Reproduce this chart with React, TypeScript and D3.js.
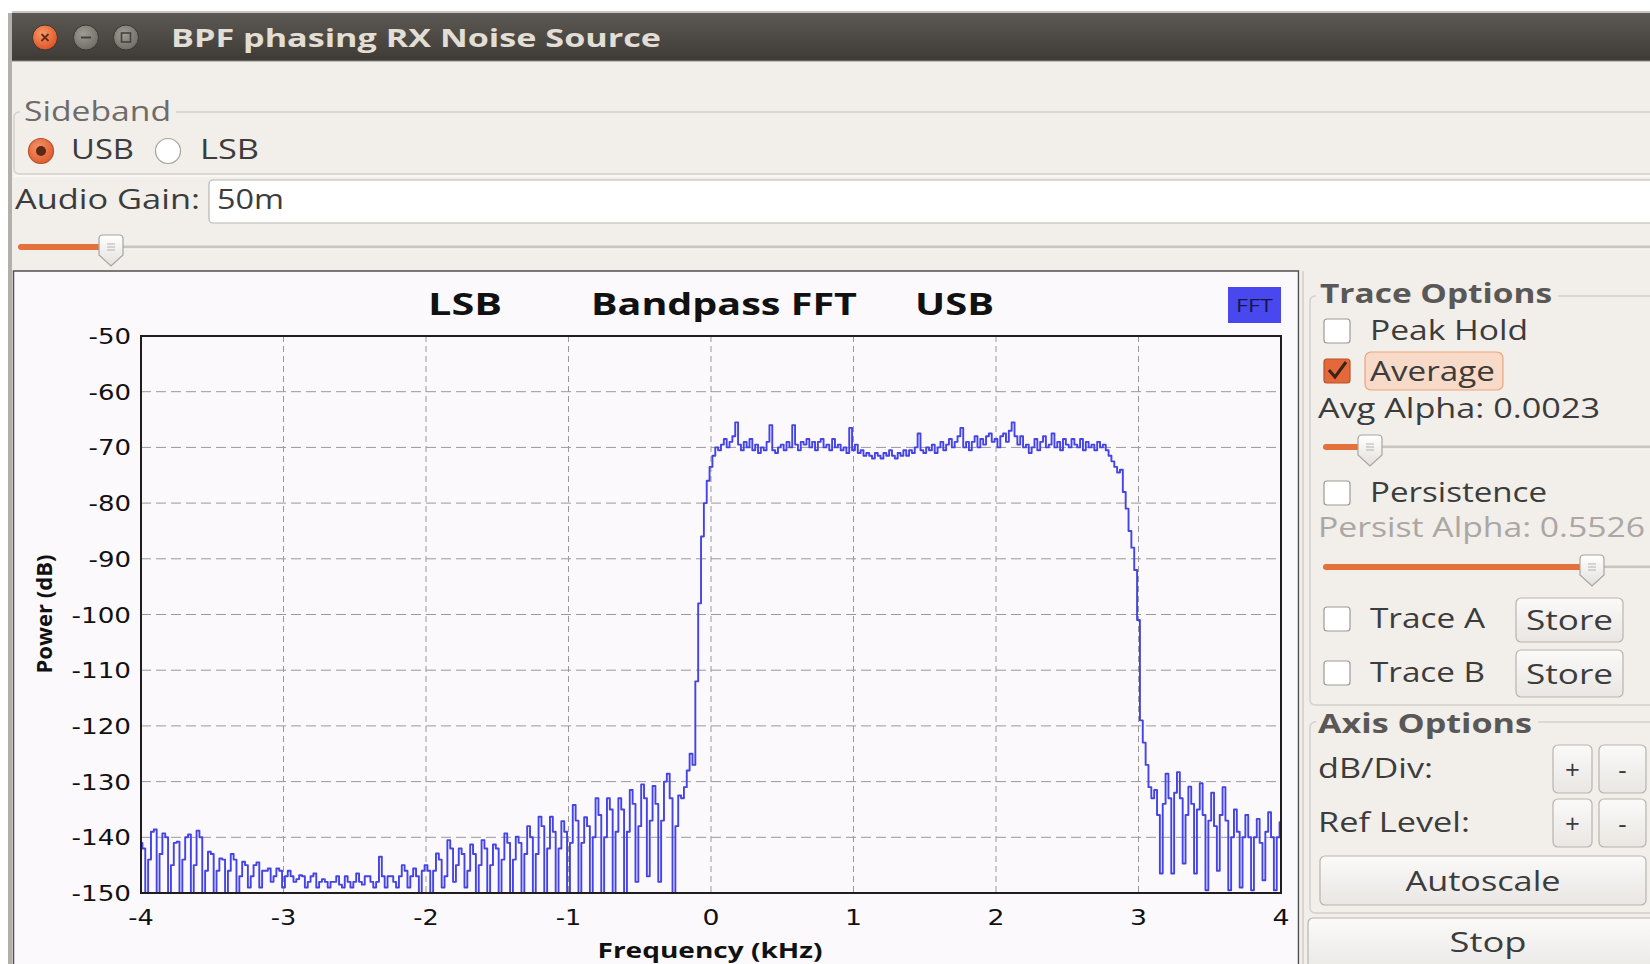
import React from 'react';
import * as d3 from 'd3';

// ---------------- DATA ----------------
const FREQ_DOMAIN: [number, number] = [-4, 4]; // kHz
const DB_DOMAIN: [number, number] = [-150, -50]; // dB
const X_TICKS = [-4, -3, -2, -1, 0, 1, 2, 3, 4];
const Y_TICKS = [-50, -60, -70, -80, -90, -100, -110, -120, -130, -140, -150];

// FFT bins, 0.02 kHz apart, from -4.00 kHz upwards
const LOWER_STOPBAND = [
  -141, -142, -150, -144, -139, -138.6, -150, -143, -139.3, -140, -150, -145,
  -141, -140.8, -150, -144, -140, -139.5, -150, -145, -138.8, -140, -150, -146,
  -142.6, -143, -150, -146, -143.8, -144, -150, -146, -143, -144, -150, -147,
  -144.4, -145, -149, -147, -145, -144.5, -149, -146, -146, -145.6, -148, -147,
  -145.6, -146, -149, -147, -146, -147, -148, -147.5, -146.8, -147, -149, -148,
  -147, -146.5, -149, -148, -147.5, -148, -149, -148, -148, -147, -148.5, -149,
  -147, -148, -149, -148, -146.5, -148, -148.5, -147, -147, -148, -149, -148,
  -143.5, -147, -149, -147, -147, -148, -149, -147, -145, -146, -149, -147,
  -145.6, -147, -150, -146, -145, -146, -150, -146, -142.9, -144, -149, -147,
  -140.5, -142, -148, -145, -142, -143, -149, -146, -141.3, -143, -150, -145,
  -140.5, -142, -150, -145, -141.3, -142, -150, -144, -139.3, -141, -150, -144,
  -139.9, -141, -150, -143, -138, -140, -150, -143, -136.3, -138, -150, -142,
  -136.3, -139, -150, -142, -137.1, -139, -150, -141, -134.2, -137, -150, -141,
  -136.4, -138, -150, -140, -133, -136, -150, -140, -133, -135, -150, -139,
  -133, -135, -150, -139, -131.5, -134, -148, -138, -130.5, -133, -147, -137,
  -130.8, -134, -148, -137,
];
const LOWER_TRANSITION = [
  -130, -128.6, -133, -150, -138, -132.5, -133, -131, -128, -125, -127, -112,
  -98, -86, -80, -76, -73.5, -71.5, -70,
];
const PASSBAND = [
  -70.5, -69.5, -68.5, -70, -69, -68, -65.5, -69.5, -70.5, -69,
  -70, -68.5, -70.5, -69.5, -71, -70, -70.5, -69, -66, -70.5,
  -71, -70, -69.5, -70.5, -69, -70, -66, -69.5, -70.5, -69,
  -69.5, -68.5, -70, -69, -70.5, -69, -68.5, -70, -69.5, -70.5,
  -68.5, -70, -69.5, -70.5, -70, -71, -66.5, -70.5, -69.5, -71,
  -70.5, -71.5, -71, -71.5, -72, -71, -71.5, -72, -71, -71.5,
  -70.5, -71.5, -72, -71, -71.5, -70.5, -71.5, -70.5, -71, -70,
  -67.5, -70.5, -71, -70, -70.5, -69.5, -71, -70, -69, -70.5,
  -69.5, -68.5, -70, -69, -68, -66.5, -70, -69, -70.5, -69,
  -68, -70, -68.5, -69.5, -68, -67.5, -69, -68.5, -70, -68,
  -67.5, -69, -67, -65.5, -68, -69.5, -68, -70, -69.5, -71,
  -70, -68.5, -70.5, -69, -68, -70, -69.5, -67.5, -70, -69,
  -70.5, -68.5, -69.5, -70, -68.5, -69.5, -70, -68.5, -70.5, -69,
  -70, -69.5, -70.5, -69, -70, -69.5, -70.5,
];
const UPPER_EDGE_AND_STOPBAND = [
  -71.5, -72.5, -73.5, -74.5, -74, -78, -81, -85, -88, -92,
  -101, -119, -123, -127, -131, -133, -131.5, -136, -146.5, -134,
  -128.6, -133, -146.5, -132, -128.3, -133, -144.7, -136, -130.9, -134,
  -146.5, -135, -130.3, -136, -149.5, -137, -132, -138, -146, -136,
  -131, -137, -149.5, -140, -135, -139, -149, -140, -136, -140,
  -149.5, -140, -136.7, -141, -147.7, -139, -135.5, -140, -149.5, -140,
  -137.3,
];
const SPECTRUM_DB = [...LOWER_STOPBAND, ...LOWER_TRANSITION, ...PASSBAND, ...UPPER_EDGE_AND_STOPBAND];

// ---------------- LAYOUT ----------------
const W = 1650;
const H = 964;
const PLOT = { left: 141, right: 1281, top: 336, bottom: 893 };
const UI = "'Open Sans', 'DejaVu Sans', sans-serif";
const NUM = "'DejaVu Sans', sans-serif";
const BG = '#f2eeea';

type TP = {
  x: number; y: number; children: React.ReactNode; size: number; weight?: number;
  fill?: string; w?: number; anchor?: 'start' | 'middle' | 'end'; family?: string; transform?: string;
};
function T({ x, y, children, size, weight = 400, fill = '#3c3c3c', w, anchor = 'start', family = UI, transform }: TP) {
  return (
    <text x={x} y={y} fontSize={size} fontWeight={weight} fill={fill} textAnchor={anchor}
      fontFamily={family} textLength={w} lengthAdjust={w ? 'spacingAndGlyphs' : undefined} transform={transform}>
      {children}
    </text>
  );
}

function Handle({ cx, top }: { cx: number; top: number }) {
  const w = 24, h = 31, b = 20;
  const d = `M${cx - w / 2} ${top + 4} Q${cx - w / 2} ${top} ${cx - w / 2 + 4} ${top} H${cx + w / 2 - 4} Q${cx + w / 2} ${top} ${cx + w / 2} ${top + 4} V${top + b} L${cx} ${top + h} L${cx - w / 2} ${top + b} Z`;
  return (
    <g>
      <path d={d} fill="url(#handleGrad)" stroke="#a8a49f" strokeWidth={1.2} />
      {[0, 1, 2].map((k) => (
        <line key={k} x1={cx - 4} x2={cx + 4} y1={top + 9 + k * 3} y2={top + 9 + k * 3} stroke="#b5b1ac" strokeWidth={1} />
      ))}
    </g>
  );
}

function Slider({ x0, x1, y, fillTo }: { x0: number; x1: number; y: number; fillTo: number }) {
  return (
    <g>
      <rect x={x0} y={y - 1.5} width={x1 - x0} height={3} rx={1.5} fill="#c9c5c0" />
      <line x1={x0} x2={x1} y1={y + 2} y2={y + 2} stroke="#fbfaf9" strokeWidth={1} />
      <rect x={x0} y={y - 3} width={fillTo - x0} height={6} rx={3} fill="#e4703c" />
      <Handle cx={fillTo + 8} top={y - 12} />
    </g>
  );
}

function Check({ cx, cy, checked = false }: { cx: number; cy: number; checked?: boolean }) {
  return (
    <g>
      <rect x={cx - 13} y={cy - 12} width={26} height={24} rx={3}
        fill={checked ? '#e4683a' : '#ffffff'} stroke={checked ? '#b9512b' : '#9d9994'} strokeWidth={1.2} />
      {checked && (
        <path d={`M${cx - 8} ${cy - 1} L${cx - 2} ${cy + 6} L${cx + 9} ${cy - 9}`} fill="none" stroke="#3a2418" strokeWidth={3} />
      )}
    </g>
  );
}

function Btn({ x, y, w, h, label, lw, size = 28, ly }: { x: number; y: number; w: number; h: number; label: string; lw?: number; size?: number; ly?: number }) {
  return (
    <g>
      <rect x={x} y={y} width={w} height={h} rx={5} fill="url(#btnGrad)" stroke="#b8b4af" strokeWidth={1.2} />
      <T x={x + w / 2} y={ly ?? y + h / 2 + 10} size={size} anchor="middle" w={lw}>{label}</T>
    </g>
  );
}

export default function App() {
  const x = d3.scaleLinear().domain(FREQ_DOMAIN).range([PLOT.left, PLOT.right]);
  const y = d3.scaleLinear().domain(DB_DOMAIN).range([PLOT.bottom, PLOT.top]);
  const n = SPECTRUM_DB.length;
  const binStep = (FREQ_DOMAIN[1] - FREQ_DOMAIN[0]) / (n - 1);
  const points: [number, number][] = SPECTRUM_DB.map((v, i) => [FREQ_DOMAIN[0] + i * binStep, v]);
  const line = d3.line<[number, number]>()
    .x((d) => x(d[0]))
    .y((d) => y(d[1]))
    .curve(d3.curveStep);
  const tickW = (s: string) => (s.startsWith('-') ? 8.5 : 0) + s.replace('-', '').length * 17;

  return (
    <div style={{ position: 'fixed', left: 0, top: 0, width: W, height: H, overflow: 'hidden', background: '#fff' }}>
      <svg width={W} height={H} style={{ display: 'block' }}>
        <defs>
          <linearGradient id="titleGrad" x1="0" y1="0" x2="0" y2="1">
            <stop offset="0" stopColor="#5c5954" />
            <stop offset="1" stopColor="#3e3b36" />
          </linearGradient>
          <linearGradient id="btnGrad" x1="0" y1="0" x2="0" y2="1">
            <stop offset="0" stopColor="#fbfaf9" />
            <stop offset="1" stopColor="#e9e6e3" />
          </linearGradient>
          <linearGradient id="handleGrad" x1="0" y1="0" x2="0" y2="1">
            <stop offset="0" stopColor="#ffffff" />
            <stop offset="1" stopColor="#e3e0dc" />
          </linearGradient>
          <radialGradient id="closeGrad" cx="0.4" cy="0.35" r="0.7">
            <stop offset="0" stopColor="#f79a6c" />
            <stop offset="1" stopColor="#de4f1f" />
          </radialGradient>
          <radialGradient id="greyBtnGrad" cx="0.4" cy="0.35" r="0.7">
            <stop offset="0" stopColor="#9e9b95" />
            <stop offset="1" stopColor="#6f6c66" />
          </radialGradient>
          <radialGradient id="radioGrad" cx="0.4" cy="0.35" r="0.7">
            <stop offset="0" stopColor="#f5916a" />
            <stop offset="1" stopColor="#dd5a2b" />
          </radialGradient>
          <clipPath id="plotClip">
            <rect x={PLOT.left} y={PLOT.top} width={PLOT.right - PLOT.left} height={PLOT.bottom - PLOT.top} />
          </clipPath>
        </defs>

        {/* window */}
        <rect x={0} y={0} width={W} height={H} fill="#ffffff" />
        <rect x={12} y={11} width={W} height={H} fill={BG} />
        <rect x={8} y={13} width={4} height={H} fill="#b3afaa" />
        <rect x={12} y={11} width={W} height={2} fill="#c9c5c0" />
        <rect x={12} y={13} width={W} height={48} fill="url(#titleGrad)" />
        <line x1={12} x2={W} y1={61} y2={61} stroke="#8d8a85" strokeWidth={1} />

        {/* title bar buttons */}
        <circle cx={45} cy={37.5} r={12.5} fill="url(#closeGrad)" stroke="#3a3733" strokeWidth={1} />
        <path d="M41.5 34 L48.5 41 M48.5 34 L41.5 41" stroke="#6a2a12" strokeWidth={1.8} />
        <circle cx={86} cy={37.5} r={12.5} fill="url(#greyBtnGrad)" stroke="#3a3733" strokeWidth={1} />
        <line x1={81} x2={91} y1={37.5} y2={37.5} stroke="#45423d" strokeWidth={2} />
        <circle cx={126} cy={37.5} r={12.5} fill="url(#greyBtnGrad)" stroke="#3a3733" strokeWidth={1} />
        <rect x={121.5} y={33} width={9} height={9} fill="none" stroke="#45423d" strokeWidth={1.6} />
        <T x={171} y={47} size={25} weight={700} fill="#e2ded5" w={490}>BPF phasing RX Noise Source</T>

        {/* Sideband group */}
        <rect x={14} y={112} width={W} height={62} rx={5} fill="none" stroke="#d4d0cb" strokeWidth={1.5} />
        <line x1={14} x2={W} y1={176} y2={176} stroke="#fbfaf8" strokeWidth={1.5} />
        <rect x={20} y={96} width={156} height={28} fill={BG} />
        <T x={24} y={121} size={27} fill="#6e6b68" w={147}>Sideband</T>
        <circle cx={41} cy={151} r={12.5} fill="url(#radioGrad)" stroke="#b9512b" strokeWidth={1.2} />
        <circle cx={41} cy={151} r={5} fill="#5c2714" />
        <T x={71} y={159} size={28} w={63}>USB</T>
        <circle cx={168} cy={151} r={12.5} fill="#ffffff" stroke="#a5a19c" strokeWidth={1.2} />
        <T x={200} y={159} size={28} w={59}>LSB</T>

        {/* Audio gain */}
        <T x={15} y={209} size={28} w={185}>Audio Gain:</T>
        <rect x={209} y={180} width={W} height={43} rx={4} fill="#ffffff" stroke="#b9b5b0" strokeWidth={1.2} />
        <T x={217} y={209} size={28} w={67}>50m</T>
        <Slider x0={18} x1={W + 10} y={247} fillTo={103} />

        {/* plot widget */}
        <rect x={13.5} y={271} width={1285} height={H} fill="#fcf9fc" stroke="#505050" strokeWidth={1.5} />

        {/* grid */}
        <g clipPath="url(#plotClip)">
          {Y_TICKS.map((t) => (
            <line key={'gy' + t} x1={PLOT.left} x2={PLOT.right} y1={y(t)} y2={y(t)} stroke="#999" strokeWidth={1} strokeDasharray="10,5" />
          ))}
          {X_TICKS.map((t) => (
            <line key={'gx' + t} x1={x(t)} x2={x(t)} y1={PLOT.top} y2={PLOT.bottom} stroke="#999" strokeWidth={1} strokeDasharray="6,4" />
          ))}
          <path d={line(points) || ''} fill="none" stroke="#4444e6" strokeWidth={1.9} strokeLinejoin="round" />
        </g>
        <rect x={PLOT.left} y={PLOT.top} width={PLOT.right - PLOT.left} height={PLOT.bottom - PLOT.top} fill="none" stroke="#1e1e1e" strokeWidth={2} />

        {/* tick labels */}
        {Y_TICKS.map((t) => (
          <T key={'ty' + t} x={131} y={y(t) + 8} size={22} anchor="end" family={NUM} fill="#111" w={tickW(String(t))}>{String(t)}</T>
        ))}
        {X_TICKS.map((t) => (
          <T key={'tx' + t} x={x(t)} y={925} size={22} anchor="middle" family={NUM} fill="#111" w={tickW(String(t))}>{String(t)}</T>
        ))}

        {/* titles */}
        <T x={428} y={315} size={30} weight={700} fill="#111" w={74}>LSB</T>
        <T x={591} y={315} size={30} weight={700} fill="#111" w={266}>Bandpass FFT</T>
        <T x={915} y={315} size={30} weight={700} fill="#111" w={79}>USB</T>
        <rect x={1228} y={287} width={53} height={36} fill="#4848ee" />
        <T x={1254.5} y={312} size={18} anchor="middle" fill="#16164a" w={37}>FFT</T>
        <T x={710} y={958} size={21} weight={700} anchor="middle" fill="#111" w={225}>Frequency (kHz)</T>
        <T x={0} y={0} size={21} weight={700} anchor="middle" fill="#111" w={119} transform="translate(52,614) rotate(-90)">Power (dB)</T>

        {/* right panel */}
        <rect x={1299.5} y={271} width={W} height={H} fill={BG} />
        <line x1={1303} x2={1303} y1={271} y2={H} stroke="#c8c4bf" strokeWidth={1.2} />
        <rect x={1310} y={296} width={400} height={409} rx={5} fill="none" stroke="#d4d0cb" strokeWidth={1.5} />
        <rect x={1316} y={280} width={242} height={30} fill={BG} />
        <T x={1320} y={303} size={26} weight={700} fill="#5a5856" w={232}>Trace Options</T>

        <Check cx={1337} cy={331} />
        <T x={1370} y={340} size={28} w={158}>Peak Hold</T>
        <rect x={1365} y={352} width={138} height={38} rx={6} fill="#f8dac8" stroke="#eaa57f" strokeWidth={1.2} />
        <Check cx={1337} cy={371} checked />
        <T x={1370} y={381} size={28} w={125}>Average</T>
        <T x={1318} y={418} size={28} w={282}>Avg Alpha: 0.0023</T>
        <Slider x0={1323} x1={W + 10} y={447} fillTo={1362} />
        <Check cx={1337} cy={493} />
        <T x={1370} y={502} size={28} w={177}>Persistence</T>
        <T x={1318} y={537} size={28} fill="#aaa7a4" w={327}>Persist Alpha: 0.5526</T>
        <Slider x0={1323} x1={W + 10} y={567} fillTo={1584} />

        <Check cx={1337} cy={619} />
        <T x={1370} y={628} size={28} w={115}>Trace A</T>
        <Btn x={1516} y={598} w={107} h={44} label="Store" lw={87} ly={630} />
        <Check cx={1337} cy={673} />
        <T x={1370} y={682} size={28} w={115}>Trace B</T>
        <Btn x={1516} y={650} w={107} h={47} label="Store" lw={87} ly={684} />

        <rect x={1310} y={722} width={400} height={191} rx={5} fill="none" stroke="#d4d0cb" strokeWidth={1.5} />
        <rect x={1316} y={706} width={222} height={30} fill={BG} />
        <T x={1318} y={733} size={26} weight={700} fill="#5a5856" w={214}>Axis Options</T>
        <T x={1318} y={778} size={28} w={115}>dB/Div:</T>
        <Btn x={1553} y={745} w={39} h={48} label="+" size={26} ly={779} />
        <Btn x={1599} y={745} w={47} h={48} label="-" size={26} ly={779} />
        <T x={1318} y={832} size={28} w={152}>Ref Level:</T>
        <Btn x={1553} y={799} w={39} h={48} label="+" size={26} ly={833} />
        <Btn x={1599} y={799} w={47} h={48} label="-" size={26} ly={833} />
        <Btn x={1320} y={856} w={326} h={49} label="Autoscale" lw={155} ly={891} />
        <Btn x={1308} y={918} w={360} h={60} label="Stop" lw={77} ly={952} />
      </svg>
    </div>
  );
}
